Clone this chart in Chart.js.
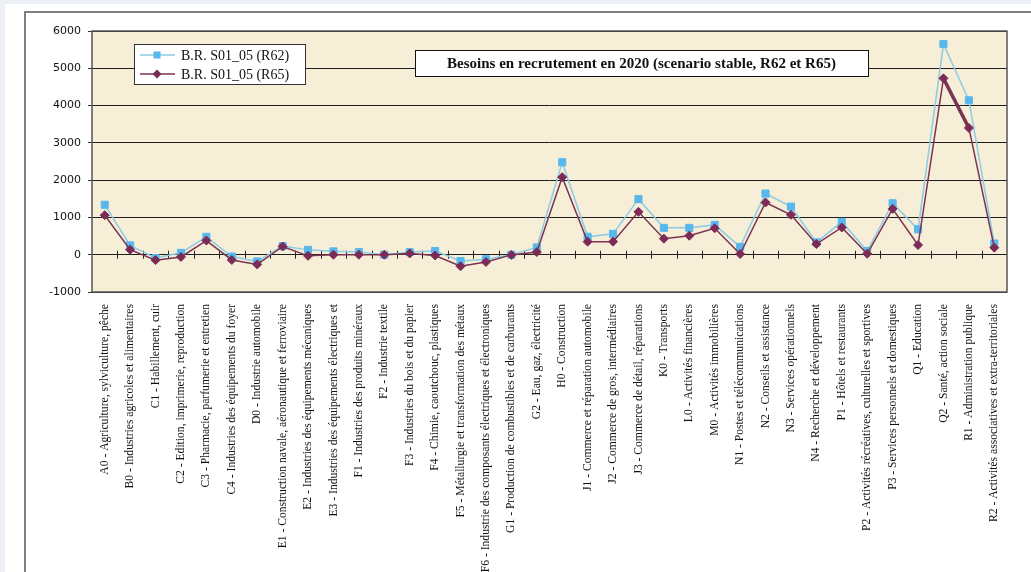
<!DOCTYPE html>
<html>
<head>
<meta charset="utf-8">
<script src="https://cdn.jsdelivr.net/npm/chart.js"></script>
<style>
  body { margin: 0; background: #edf1f6; overflow: hidden; }
  #sheet { position: absolute; left: 5px; top: 4px; right: 0; bottom: 0; background: #fff; }
  #frame { position: absolute; left: 24px; top: 11px; width: 1020px; height: 600px; border: 2px solid #808080; }
  #chart { position: absolute; left: 0; top: 0; }
</style>
</head>
<body>
<div id="sheet"></div>
<div id="frame"></div>
<canvas id="chart" width="1031" height="572"></canvas>
<script>
// sectors (x axis)
const categories = [
  "A0 - Agriculture, sylviculture, pêche",
  "B0 - Industries agricoles et alimentaires",
  "C1 - Habillement, cuir",
  "C2 - Edition, imprimerie, reproduction",
  "C3 - Pharmacie, parfumerie et entretien",
  "C4 - Industries des équipements du foyer",
  "D0 - Industrie automobile",
  "E1 - Construction navale, aéronautique et ferroviaire",
  "E2 - Industries des équipements mécaniques",
  "E3 - Industries des équipements électriques et",
  "F1 - Industries des produits minéraux",
  "F2 - Industrie textile",
  "F3 - Industries du bois et du papier",
  "F4 - Chimie, caoutchouc, plastiques",
  "F5 - Métallurgie et transformation des métaux",
  "F6 - Industrie des composants électriques et électroniques",
  "G1 - Production de combustibles et de carburants",
  "G2 - Eau, gaz, électricité",
  "H0 - Construction",
  "J1 - Commerce et réparation automobile",
  "J2 - Commerce de gros, intermédiaires",
  "J3 - Commerce de détail, réparations",
  "K0 - Transports",
  "L0 - Activités financières",
  "M0 - Activités immobilières",
  "N1 - Postes et télécommunications",
  "N2 - Conseils et assistance",
  "N3 - Services opérationnels",
  "N4 - Recherche et développement",
  "P1 - Hôtels et restaurants",
  "P2 - Activités récréatives, culturelles et sportives",
  "P3 - Services personnels et domestiques",
  "Q1 - Education",
  "Q2 - Santé, action sociale",
  "R1 - Administration publique",
  "R2 - Activités associatives et extra-territoriales"
];

// besoins en recrutement
const r62 = [1340, 250, -90, 50, 480, -50, -180, 230, 130, 90, 70, 0, 70, 100, -170, -120, 0, 195,
  2480, 480, 560, 1490, 720, 720, 800, 210, 1640, 1290, 330, 880, 100, 1380, 680, 5650, 4140, 300];
const r65 = [1060, 135, -145, -60, 380, -140, -260, 220, -30, 0, 0, 0, 35, -20, -310, -195, -5, 70,
  2080, 350, 350, 1150, 430, 510, 710, 20, 1400, 1070, 285, 730, 25, 1230, 260, 4730, 3400, 190];

const seriesNames = ["B.R. S01_05 (R62)", "B.R. S01_05 (R65)"];
const chartTitle = "Besoins en recrutement en 2020 (scenario stable, R62 et R65)";
const yMin = -1000, yMax = 6000, yStep = 1000;

// plot background, zero-line ticks, frame, legend and title boxes
const decor = {
  id: "decor",
  beforeDraw(chart) {
    const { ctx, chartArea: a } = chart;
    ctx.save();
    ctx.fillStyle = "#f6eed7";
    ctx.fillRect(a.left, a.top, a.right - a.left, a.bottom - a.top);
    ctx.restore();
  },
  beforeDatasetsDraw(chart) {
    const { ctx, scales } = chart;
    const x = scales.x, y0 = scales.y.getPixelForValue(0);
    ctx.save();
    ctx.strokeStyle = "#222";
    ctx.lineWidth = 1;
    ctx.beginPath();
    for (let i = 0; i < categories.length - 1; i++) {
      const bx = Math.round((x.getPixelForValue(i) + x.getPixelForValue(i + 1)) / 2) + 0.5;
      ctx.moveTo(bx, y0 - 4);
      ctx.lineTo(bx, y0 + 4);
    }
    ctx.stroke();
    ctx.restore();
  },
  afterDraw(chart) {
    const { ctx, chartArea: a } = chart;
    ctx.save();
    ctx.strokeStyle = "#555";
    ctx.lineWidth = 1.5;
    ctx.strokeRect(a.left, a.top, a.right - a.left, a.bottom - a.top);

    // legend
    const lx = a.left + 42, ly = a.top + 13;
    ctx.fillStyle = "#fff";
    ctx.fillRect(lx, ly, 171, 40);
    ctx.strokeStyle = "#333";
    ctx.lineWidth = 1;
    ctx.strokeRect(lx + 0.5, ly + 0.5, 171, 40);
    chart.data.datasets.forEach((ds, i) => {
      const yy = ly + 11 + i * 19, mx = lx + 23;
      ctx.strokeStyle = ds.borderColor;
      ctx.lineWidth = 1.5;
      ctx.beginPath();
      ctx.moveTo(lx + 6, yy);
      ctx.lineTo(lx + 41, yy);
      ctx.stroke();
      ctx.fillStyle = ds.pointBackgroundColor;
      ctx.beginPath();
      if (ds.pointStyle === "rect") {
        const s = ds.pointRadius * Math.SQRT1_2;
        ctx.rect(mx - s, yy - s, 2 * s, 2 * s);
      } else {
        const r = ds.pointRadius;
        ctx.moveTo(mx, yy - r); ctx.lineTo(mx + r, yy);
        ctx.lineTo(mx, yy + r); ctx.lineTo(mx - r, yy);
        ctx.closePath();
      }
      ctx.fill();
      ctx.fillStyle = "#111";
      ctx.font = "14px 'Liberation Serif'";
      ctx.textBaseline = "middle";
      ctx.textAlign = "left";
      ctx.fillText(ds.label, lx + 47, yy + 1);
    });

    // title box
    const tx = a.left + 323, ty = a.top + 19, tw = 453, th = 26;
    ctx.fillStyle = "#fff";
    ctx.fillRect(tx, ty, tw, th);
    ctx.strokeStyle = "#111";
    ctx.lineWidth = 1;
    ctx.strokeRect(tx + 0.5, ty + 0.5, tw, th);
    ctx.fillStyle = "#111";
    ctx.font = "bold 15px 'Liberation Serif'";
    ctx.textAlign = "center";
    ctx.textBaseline = "middle";
    ctx.fillText(chartTitle, tx + tw / 2, ty + th / 2 + 1);
    ctx.restore();
  }
};

new Chart(document.getElementById("chart"), {
  type: "line",
  data: {
    labels: categories,
    datasets: [
      {
        label: seriesNames[0],
        data: r62,
        borderColor: "#8ecbe4",
        borderWidth: 1.5,
        pointStyle: "rect",
        pointRadius: 5,
        pointBackgroundColor: "#58b8ee",
        pointBorderColor: "#58b8ee",
        pointBorderWidth: 1,
        tension: 0,
        order: 2
      },
      {
        label: seriesNames[1],
        data: r65,
        borderColor: "#7a3352",
        borderWidth: 1.5,
        // the Q2 -> R1 stretch is drawn heavier in the source
        segment: { borderWidth: (c) => (c.p0DataIndex === 33 ? 3.5 : undefined) },
        pointStyle: "rectRot",
        pointRadius: 4.5,
        pointBackgroundColor: "#7b2b56",
        pointBorderColor: "#7b2b56",
        pointBorderWidth: 1,
        tension: 0,
        order: 1
      }
    ]
  },
  options: {
    responsive: false,
    animation: false,
    layout: { padding: { top: 31, right: 24, left: 0, bottom: 0 } },
    plugins: { legend: { display: false }, tooltip: { enabled: false } },
    scales: {
      x: {
        offset: true,
        grid: { display: false, offset: true },
        border: { display: false },
        ticks: {
          autoSkip: false, maxRotation: 90, minRotation: 90, padding: 4,
          color: "#111", font: { family: "'Liberation Serif'", size: 11.6 }
        },
        afterFit(scale) { scale.height = 280; }
      },
      y: {
        min: yMin, max: yMax,
        grid: { color: "#1e1e1e", lineWidth: 1, tickLength: 4, tickColor: "#333" },
        border: { display: false },
        ticks: {
          stepSize: yStep, padding: 7,
          color: "#111", font: { family: "'DejaVu Sans'", size: 11 },
          callback: (v) => String(v)
        },
        afterFit(scale) { scale.width = 92; }
      }
    }
  },
  plugins: [decor]
});
</script>
</body>
</html>
